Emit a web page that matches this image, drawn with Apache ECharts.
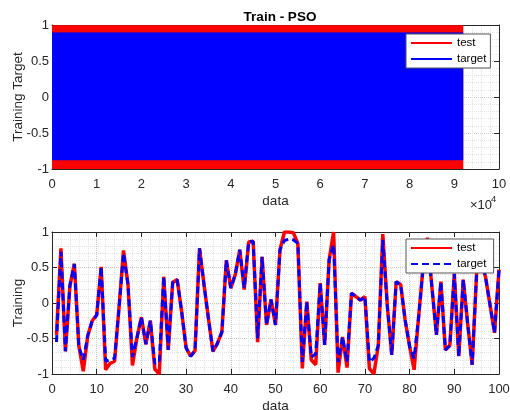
<!DOCTYPE html>
<html>
<head>
<meta charset="utf-8">
<script src="https://cdn.jsdelivr.net/npm/echarts@6/dist/echarts.min.js"></script>
<style>
html, body { margin: 0; padding: 0; background: #fff; }
#main { width: 510px; height: 410px; }
</style>
</head>
<body>
<div id="main"></div>
<script>
// top panel: the signals are so dense they read as solid bands (x in units of 1e4)
var topX = [0, 9.2];
var topTestHigh = [0.99, 0.99];
var topTestLow = -1;
var topTargetHigh = [0.89, 0.89];
var topTargetLow = -0.88;

// bottom panel: first 100 samples
var testVals = [
    -0.45, 0.77, -0.68, 0.24, 0.55, -0.6, -0.96, -0.46, -0.25, -0.17,
    0.51, -0.94, -0.85, -0.82, -0.06, 0.74, 0.26, -0.88, -0.49, -0.2,
    -0.58, -0.25, -0.93, -1.0, 0.37, -0.66, 0.29, 0.33, -0.12, -0.63,
    -0.75, -0.67, 0.77, 0.26, -0.22, -0.68, -0.57, -0.41, 0.6, 0.21,
    0.4, 0.75, 0.19, 0.86, 0.87, -0.55, 0.65, -0.31, 0.05, -0.31,
    0.75, 1.0, 1.0, 0.99, 0.84, -0.92, 0.02, -0.8, -0.87, 0.28,
    -0.59, 0.61, 1.0, -0.98, -0.48, -0.91, 0.14, 0.09, 0.04, 0.09,
    -0.92, -1.0, -0.6, 0.97, -0.03, -0.73, 0.3, 0.26, -0.24, -0.61,
    -0.94, -0.21, 0.49, 0.92, 0.22, -0.45, 0.3, -0.66, -0.6, 0.41,
    -0.75, 0.33, -0.3, -0.87, 0.43, 0.62, 0.36, -0.03, -0.42, 0.47
];
var targetVals = [
    -0.55, 0.72, -0.68, 0.24, 0.55, -0.62, -0.8, -0.46, -0.25, -0.17,
    0.51, -0.82, -0.8, -0.78, -0.06, 0.7, 0.26, -0.76, -0.49, -0.2,
    -0.58, -0.25, -0.85, -0.84, 0.37, -0.66, 0.29, 0.33, -0.12, -0.63,
    -0.75, -0.67, 0.77, 0.26, -0.22, -0.68, -0.57, -0.41, 0.6, 0.21,
    0.4, 0.75, 0.21, 0.86, 0.87, -0.5, 0.65, -0.31, 0.05, -0.31,
    0.75, 0.88, 0.9, 0.89, 0.84, -0.83, 0.02, -0.76, -0.72, 0.28,
    -0.59, 0.61, 0.82, -0.83, -0.48, -0.83, 0.14, 0.09, 0.04, 0.09,
    -0.83, -0.78, -0.6, 0.89, -0.03, -0.73, 0.3, 0.26, -0.24, -0.61,
    -0.78, -0.21, 0.49, 0.88, 0.22, -0.45, 0.3, -0.66, -0.6, 0.41,
    -0.75, 0.33, -0.3, -0.87, 0.43, 0.62, 0.36, -0.03, -0.42, 0.47
];

var ink = '#262626';
var font = 'Liberation Sans, Arial, sans-serif';

function pairs(xs, ys) {
    var out = [];
    for (var i = 0; i < ys.length; i++) {
        out.push([xs ? xs[i] : i + 1, ys[i]]);
    }
    return out;
}

function axis(opts, labels) {
    var a = {
        type: 'value',
        gridIndex: opts.grid,
        position: opts.position,
        min: opts.min,
        max: opts.max,
        interval: opts.interval,
        axisLine: { show: true, onZero: false, lineStyle: { color: ink, width: 1 } },
        axisTick: { show: true, inside: true, length: 5, lineStyle: { color: ink } },
        axisLabel: { show: labels, color: ink, fontSize: 13, fontFamily: font, margin: opts.margin || 3 },
        splitLine: { show: labels, lineStyle: { type: 'dotted', color: '#c8c8c8' } },
        minorTick: { show: false, splitNumber: 5 },
        minorSplitLine: { show: labels, lineStyle: { type: 'dotted', color: '#e4e4e4' } }
    };
    if (opts.name) {
        a.name = opts.name;
        a.nameLocation = 'middle';
        a.nameGap = opts.nameGap;
        a.nameMoveOverlap = false;
        a.nameTextStyle = { color: ink, fontSize: 13.5, fontFamily: font };
    }
    return a;
}

var myChart = echarts.init(document.getElementById('main'));

var legendBase = {
    orient: 'vertical',
    left: 406,
    itemWidth: 41,
    itemHeight: 12,
    itemGap: 4,
    padding: [3, 4, 3, 4],
    backgroundColor: '#fff',
    borderColor: '#555',
    borderWidth: 1,
    borderRadius: 0,
    itemStyle: { opacity: 0 },
    textStyle: { color: '#000', fontSize: 11.5, fontFamily: font }
};

option = {
    animation: false,
    backgroundColor: '#fff',
    title: {
        text: 'Train - PSO',
        left: 275,
        top: 5,
        textAlign: 'center',
        textStyle: { color: '#000', fontSize: 13.5, fontWeight: 'bold', fontFamily: font }
    },
    grid: [
        { left: 52, right: 11, top: 25, height: 144, outerBoundsMode: 'none' },
        { left: 52, right: 11, top: 232, height: 142, outerBoundsMode: 'none' }
    ],
    legend: [
        Object.assign({}, legendBase, { top: 34, data: ['test', 'target'] }),
        Object.assign({}, legendBase, { top: 239, data: ['test ', 'target '] })
    ],
    xAxis: [
        axis({ grid: 0, position: 'bottom', min: 0, max: 10, interval: 1, margin: 9, name: 'data', nameGap: 25 }, true),
        axis({ grid: 0, position: 'top', min: 0, max: 10, interval: 1 }, false),
        axis({ grid: 1, position: 'bottom', min: 0, max: 100, interval: 10, margin: 9, name: 'data', nameGap: 25 }, true),
        axis({ grid: 1, position: 'top', min: 0, max: 100, interval: 10 }, false)
    ],
    yAxis: [
        axis({ grid: 0, position: 'left', min: -1, max: 1, interval: 0.5, name: 'Training Target', nameGap: 27 }, true),
        axis({ grid: 0, position: 'right', min: -1, max: 1, interval: 0.5 }, false),
        axis({ grid: 1, position: 'left', min: -1, max: 1, interval: 0.5, name: 'Training', nameGap: 27 }, true),
        axis({ grid: 1, position: 'right', min: -1, max: 1, interval: 0.5 }, false)
    ],
    graphic: [
        { type: 'text', left: 470, top: 199, style: { text: '×10', fill: ink, fontSize: 13, fontFamily: font } },
        { type: 'text', left: 491, top: 194, style: { text: '4', fill: ink, fontSize: 9.5, fontFamily: font } }
    ],
    series: [
        {
            name: 'test',
            type: 'line',
            xAxisIndex: 0,
            yAxisIndex: 0,
            symbol: 'none',
            data: pairs(topX, topTestHigh),
            lineStyle: { color: '#ff0000', width: 1 },
            itemStyle: { color: '#ff0000' },
            areaStyle: { color: '#ff0000', opacity: 1, origin: topTestLow }
        },
        {
            name: 'target',
            type: 'line',
            xAxisIndex: 0,
            yAxisIndex: 0,
            symbol: 'none',
            data: pairs(topX, topTargetHigh),
            lineStyle: { color: '#0000ff', width: 1 },
            itemStyle: { color: '#0000ff' },
            areaStyle: { color: '#0000ff', opacity: 1, origin: topTargetLow }
        },
        {
            name: 'test ',
            type: 'line',
            xAxisIndex: 2,
            yAxisIndex: 2,
            symbol: 'none',
            data: pairs(null, testVals),
            lineStyle: { color: '#ff0000', width: 3.5 },
            itemStyle: { color: '#ff0000' }
        },
        {
            name: 'target ',
            type: 'line',
            xAxisIndex: 2,
            yAxisIndex: 2,
            symbol: 'none',
            data: pairs(null, targetVals),
            lineStyle: { color: '#0000ff', width: 3, type: [7, 4] },
            itemStyle: { color: '#0000ff' }
        }
    ]
};

myChart.setOption(option);
</script>
</body>
</html>
